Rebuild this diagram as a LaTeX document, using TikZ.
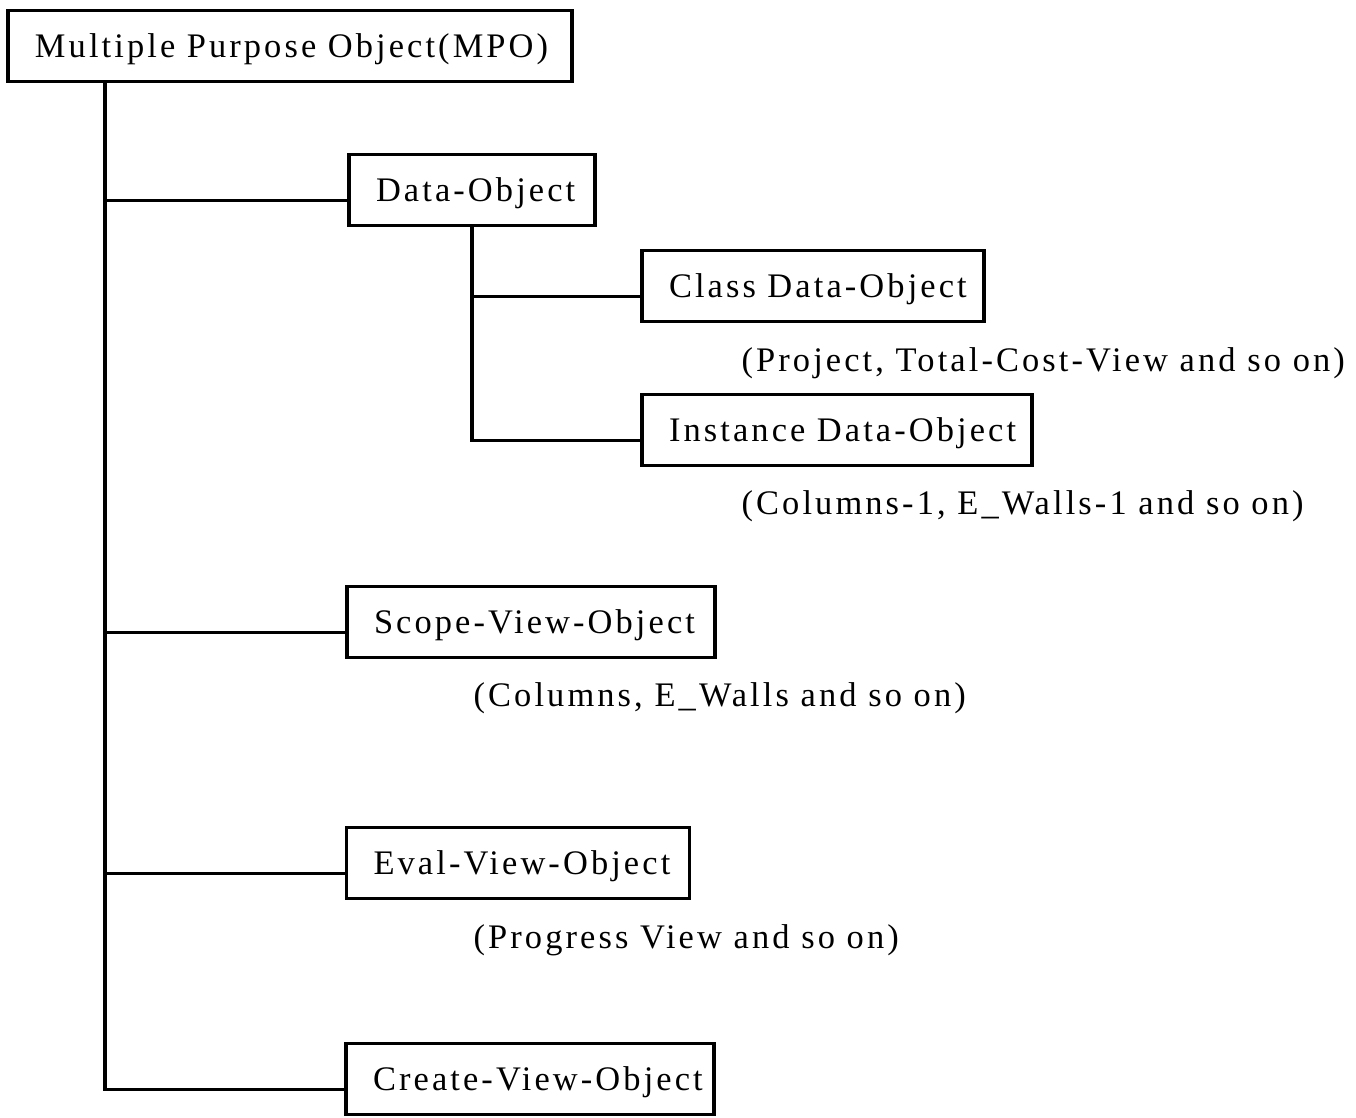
\documentclass[tikz,border=0pt]{standalone}
\usepackage{fontspec}
\setmainfont{Liberation Serif}[LetterSpace=9]

\begin{document}
\begin{tikzpicture}
[x=0.02cm,y=-0.02cm,line width=1.8pt,%
  lineDecorate/.style={-,line width=1.8pt},%
  boxDecorate/.style={draw,line width=1.8pt,inner xsep=0.54cm,inner ysep=0pt,minimum height=1.42cm,text height=0.45cm,text depth=0pt,align=left},%
  noteDecorate/.style={anchor=base west,inner sep=0pt}]
\fontsize{19.6}{23}\selectfont
\useasboundingbox (0,0) rectangle (1356,1117);
%% boxes
\foreach \nodename/\x/\y/\w/\txt in {
  mpo/290/46/564/{Multiple Purpose Object(MPO)},
  data/472/190/246/{Data-Object},
  cls/813/286/342/{Class Data-Object},
  inst/837/430/390/{Instance Data-Object},
  scope/531/622/368/{Scope-View-Object},
  eval/518/863/343/{Eval-View-Object},
  create/530/1079/368/{Create-View-Object}}
{
  \pgfmathsetmacro\tw{(\w-54)*0.02}
  \node[boxDecorate,text width=\tw cm] (\nodename) at (\x,\y) {\mbox{\txt}};
  \coordinate (\nodename-in) at ([yshift=-0.21cm]\nodename.west);
}
%% notes under the boxes
\foreach \nodename/\x/\y/\txt in {
  clsnote/740/371/{(Project, Total-Cost-View and so on)},
  instnote/740/514/{(Columns-1, E\_Walls-1 and so on)},
  scopenote/472/706/{(Columns, E\_Walls and so on)},
  evalnote/472/948/{(Progress View and so on)}}
{
  \node[noteDecorate] (\nodename) at (\x,\y) {\txt};
}
%% connect the boxes
\coordinate (trunk) at (105,0);
\draw[lineDecorate] (mpo.south -| trunk) |- (create-in);
\foreach \nodename in {data,scope,eval}
  \draw[lineDecorate] (trunk |- \nodename-in) -- (\nodename-in);
\draw[lineDecorate] (data.south) |- (inst-in);
\draw[lineDecorate] (data.south |- cls-in) -- (cls-in);
\end{tikzpicture}
\end{document}
